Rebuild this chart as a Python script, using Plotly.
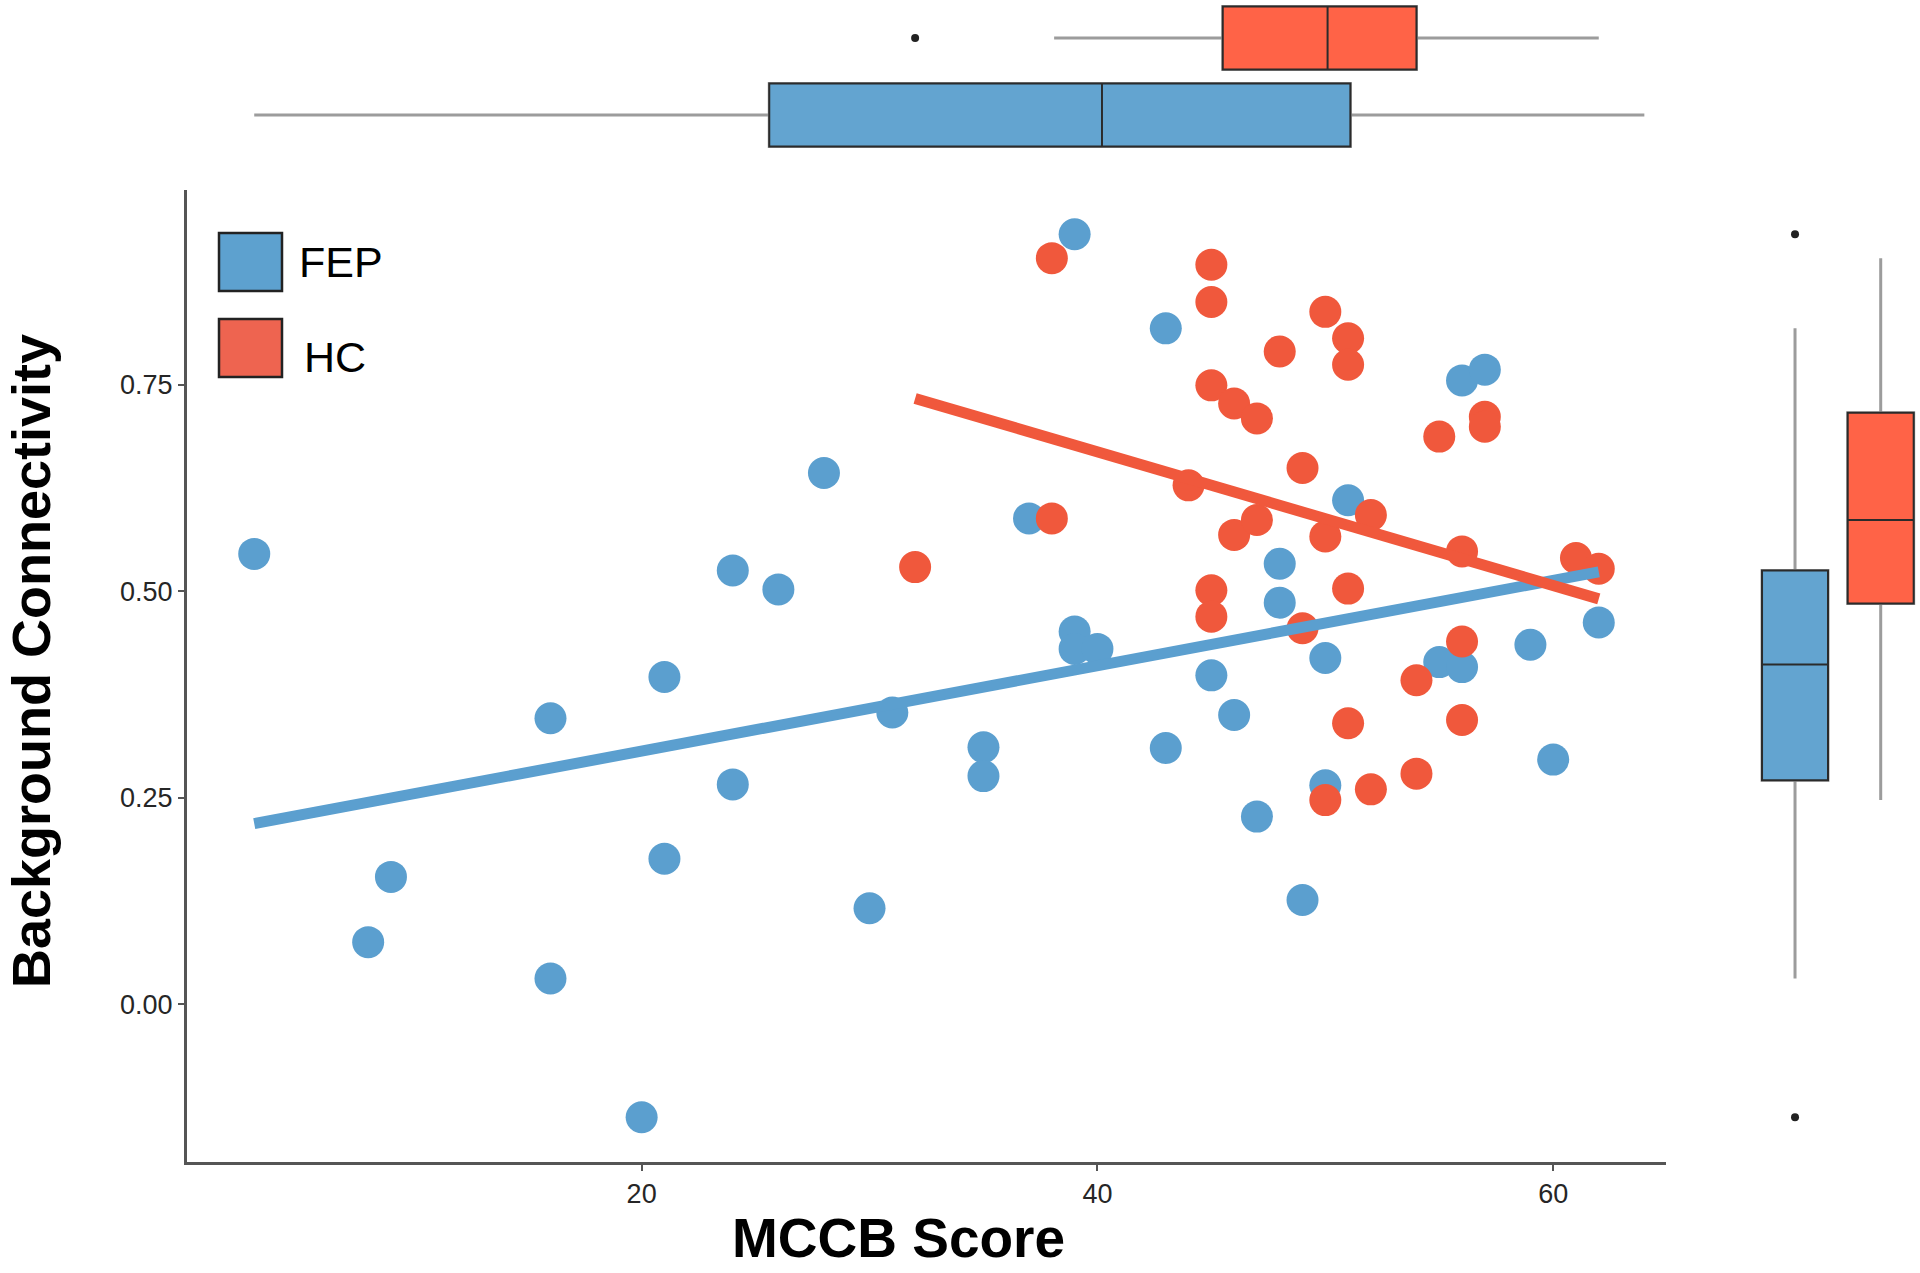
import numpy as np
import plotly.graph_objects as go

# ---------------- data ----------------
fep_mccb = [3, 8, 9, 16, 16, 20, 21, 21, 24, 24, 26, 28, 30, 31, 35, 35, 37, 39, 39, 39, 40,
            43, 43, 45, 46, 47, 48, 48, 49, 50, 50, 51, 55, 56, 56, 57, 59, 60, 62]
fep_conn = [0.545, 0.075, 0.154, 0.346, 0.031, -0.137, 0.396, 0.176, 0.525, 0.266, 0.502, 0.643,
            0.116, 0.353, 0.311, 0.276, 0.588, 0.932, 0.451, 0.430, 0.430,
            0.818, 0.310, 0.398, 0.350, 0.227, 0.533, 0.486, 0.126, 0.419, 0.265, 0.610,
            0.414, 0.408, 0.755, 0.768, 0.435, 0.296, 0.462]

hc_mccb = [32, 38, 38, 44, 45, 45, 45, 45, 45, 46, 47, 46, 47, 48, 49, 49, 50, 50, 50,
           51, 51, 51, 51, 52, 52, 54, 54, 55, 56, 56, 56, 57, 57, 61, 62]
hc_conn = [0.529, 0.903, 0.588, 0.628, 0.895, 0.850, 0.749, 0.501, 0.469, 0.727, 0.709, 0.568,
           0.586, 0.790, 0.649, 0.455, 0.838, 0.566, 0.247, 0.806, 0.774, 0.503, 0.340,
           0.592, 0.260, 0.392, 0.279, 0.687, 0.548, 0.439, 0.344, 0.711, 0.699, 0.540, 0.527]

groups = ["FEP", "HC"]

# marginal box summaries (MCCB score, top)
mccb_lowerfence = [3.0, 38.1]
mccb_q1 = [25.6, 45.5]
mccb_median = [40.2, 50.1]
mccb_q3 = [51.1, 54.0]
mccb_upperfence = [64.0, 62.0]
mccb_outliers = {"HC": [32]}

# marginal box summaries (background connectivity, right)
conn_lowerfence = [0.031, 0.247]
conn_q1 = [0.271, 0.485]
conn_median = [0.411, 0.586]
conn_q3 = [0.525, 0.716]
conn_upperfence = [0.818, 0.903]
conn_outliers = {"FEP": [0.932, -0.137]}

x_ticks = [20, 40, 60]
y_ticks = [0.00, 0.25, 0.50, 0.75]

# ---------------- styling ----------------
W, H = 1920, 1273
FONT = "Liberation Sans, Arial, Helvetica, sans-serif"
pt_colors = {"FEP": "#5B9FCF", "HC": "#F0583C"}
box_colors = {"FEP": "#63A4D0", "HC": "#FF6347"}
legend_colors = {"FEP": "#5DA1CF", "HC": "#EE6450"}
AXIS_GREY = "#555555"

x_range = [0.05, 64.95]
y_range = [-0.1905, 0.9855]
main_xdom = [187 / W, 1666 / W]
main_ydom = [1 - 1161.5 / H, 1 - 190 / H]

fig = go.Figure()

# scatter points
for g, xs, ys in (("FEP", fep_mccb, fep_conn), ("HC", hc_mccb, hc_conn)):
    fig.add_trace(go.Scatter(x=xs, y=ys, mode="markers", name=g, showlegend=False,
                             marker=dict(color=pt_colors[g], size=32, line=dict(width=0)),
                             xaxis="x", yaxis="y"))

# linear fits
for g, xs, ys in (("FEP", fep_mccb, fep_conn), ("HC", hc_mccb, hc_conn)):
    xa, ya = np.array(xs, float), np.array(ys, float)
    slope, intercept = np.polyfit(xa, ya, 1)
    xf = np.array([xa.min(), xa.max()])
    fig.add_trace(go.Scatter(x=xf, y=intercept + slope * xf, mode="lines", showlegend=False,
                             line=dict(color=pt_colors[g], width=11), xaxis="x", yaxis="y"))

# top marginal boxes (horizontal)
for i, g in enumerate(groups):
    common = dict(orientation="h", y=[i], q1=[mccb_q1[i]], median=[mccb_median[i]],
                  q3=[mccb_q3[i]], fillcolor=box_colors[g], width=0.82, whiskerwidth=0,
                  boxpoints=False, showlegend=False, xaxis="x2", yaxis="y2", hoverinfo="skip")
    fig.add_trace(go.Box(lowerfence=[mccb_lowerfence[i]], upperfence=[mccb_upperfence[i]],
                         line=dict(color="#9c9c9c", width=3), **common))
    fig.add_trace(go.Box(lowerfence=[mccb_q1[i]], upperfence=[mccb_q3[i]],
                         line=dict(color="#2b2b2b", width=2), **common))
    if g in mccb_outliers:
        fig.add_trace(go.Scatter(x=mccb_outliers[g], y=[i] * len(mccb_outliers[g]), mode="markers",
                                 marker=dict(color="#222222", size=8), showlegend=False,
                                 xaxis="x2", yaxis="y2"))

# right marginal boxes (vertical)
for i, g in enumerate(groups):
    common = dict(x=[i], q1=[conn_q1[i]], median=[conn_median[i]], q3=[conn_q3[i]],
                  fillcolor=box_colors[g], width=0.77, whiskerwidth=0, boxpoints=False,
                  showlegend=False, xaxis="x3", yaxis="y3", hoverinfo="skip")
    fig.add_trace(go.Box(lowerfence=[conn_lowerfence[i]], upperfence=[conn_upperfence[i]],
                         line=dict(color="#9c9c9c", width=3), **common))
    fig.add_trace(go.Box(lowerfence=[conn_q1[i]], upperfence=[conn_q3[i]],
                         line=dict(color="#2b2b2b", width=2), **common))
    if g in conn_outliers:
        fig.add_trace(go.Scatter(x=[i] * len(conn_outliers[g]), y=conn_outliers[g], mode="markers",
                                 marker=dict(color="#222222", size=8), showlegend=False,
                                 xaxis="x3", yaxis="y3"))

axis_common = dict(showgrid=False, zeroline=False, showline=True, linecolor=AXIS_GREY, linewidth=3,
                   ticks="outside", ticklen=6, tickwidth=2, tickcolor=AXIS_GREY,
                   tickfont=dict(family=FONT, size=27, color="#262626"))

fig.update_layout(
    width=W, height=H, margin=dict(l=0, r=0, t=0, b=0),
    paper_bgcolor="white", plot_bgcolor="white", showlegend=False, boxmode="overlay",
    xaxis=dict(domain=main_xdom, range=x_range, tickvals=x_ticks, anchor="y",
               ticklabelstandoff=0, **axis_common),
    yaxis=dict(domain=main_ydom, range=y_range, tickvals=y_ticks, tickformat=".2f", anchor="x",
               ticklabelstandoff=0, **axis_common),
    xaxis2=dict(domain=main_xdom, range=x_range, visible=False, anchor="y2"),
    yaxis2=dict(domain=[1 - 153.5 / H, 1.0], range=[-0.5, 1.4935], visible=False, anchor="x2"),
    xaxis3=dict(domain=[1752 / W, 1.0], range=[-0.502, 1.4586], visible=False, anchor="y3"),
    yaxis3=dict(domain=main_ydom, range=y_range, visible=False, anchor="x3"),
)

# axis titles
fig.add_annotation(text="MCCB Score", xref="paper", yref="paper", x=898 / W, y=1 - 1238 / H,
                   xanchor="center", yanchor="middle", showarrow=False,
                   font=dict(family=FONT, size=55, color="black", weight="bold"))
fig.add_annotation(text="Background Connectivity", xref="paper", yref="paper", x=31 / W,
                   y=1 - 661 / H, textangle=-90, xanchor="center", yanchor="middle", showarrow=False,
                   font=dict(family=FONT, size=54, color="black", weight="bold"))

# legend (drawn as keys + labels)
legend_rows = [("FEP", 233, 291, 297, 262), ("HC", 319, 377, 302, 357)]
for g, top, bot, tx, ty in legend_rows:
    fig.add_shape(type="rect", xref="paper", yref="paper", x0=219 / W, x1=282 / W,
                  y0=1 - bot / H, y1=1 - top / H, fillcolor=legend_colors[g],
                  line=dict(color="#222222", width=2.5), layer="above")
    fig.add_annotation(text=g, xref="paper", yref="paper", x=tx / W, y=1 - ty / H,
                       xanchor="left", yanchor="middle", showarrow=False,
                       font=dict(family=FONT, size=43, color="black"))

fig.write_html("out.html", config={"displayModeBar": False},
               post_script="document.body.style.margin='0px';document.body.style.overflow='hidden';")
